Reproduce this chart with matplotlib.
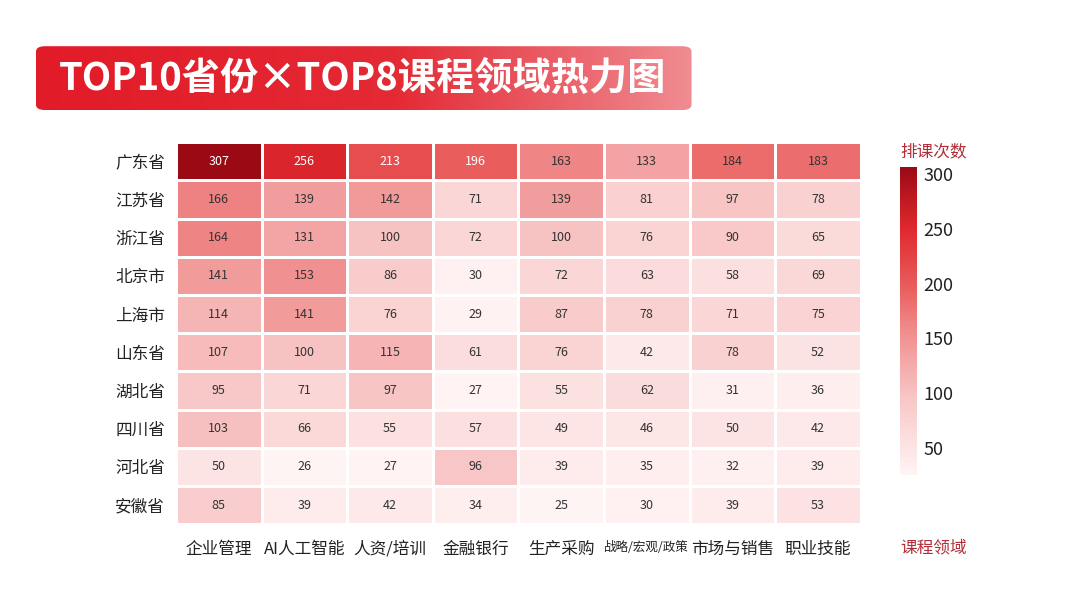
import numpy as np
import matplotlib
matplotlib.use("Agg")
import matplotlib.pyplot as plt
from matplotlib.colors import LinearSegmentedColormap, Normalize
from matplotlib.patches import FancyBboxPatch

plt.rcParams['font.family'] = ['Noto Sans CJK SC', 'DejaVu Sans']

provinces = ["广东省", "江苏省", "浙江省", "北京市", "上海市",
             "山东省", "湖北省", "四川省", "河北省", "安徽省"]
fields = ["企业管理", "AI人工智能", "人资/培训", "金融银行", "生产采购",
          "战略/宏观/政策", "市场与销售", "职业技能"]
counts = np.array([
    [307, 256, 213, 196, 163, 133, 184, 183],
    [166, 139, 142, 71, 139, 81, 97, 78],
    [164, 131, 100, 72, 100, 76, 90, 65],
    [141, 153, 86, 30, 72, 63, 58, 69],
    [114, 141, 76, 29, 87, 78, 71, 75],
    [107, 100, 115, 61, 76, 42, 78, 52],
    [95, 71, 97, 27, 55, 62, 31, 36],
    [103, 66, 55, 57, 49, 46, 50, 42],
    [50, 26, 27, 96, 39, 35, 32, 39],
    [85, 39, 42, 34, 25, 30, 39, 53],
])
cbar_ticks = [50, 100, 150, 200, 250, 300]

cmap = LinearSegmentedColormap.from_list("reds", [
    (0.0, "#fff4f4"), (0.25, "#f8c6c6"), (0.47, "#f08c8c"),
    (0.6, "#e9605f"), (0.8, "#e0282e"), (1.0, "#9a0914")])
norm = Normalize(vmin=counts.min(), vmax=counts.max())

fig = plt.figure(figsize=(10.8, 6.08), dpi=100)
fig.patch.set_facecolor("white")

# title banner with gradient
tax = fig.add_axes([0.0333, 0.819, 0.607, 0.105])
tax.set_xlim(0, 1)
tax.set_ylim(0, 1)
tax.axis("off")
grad_cmap = LinearSegmentedColormap.from_list("banner", [
    (0.0, "#e21b28"), (0.55, "#e42a35"), (1.0, "#f08c92")])
img = tax.imshow(np.linspace(0, 1, 256).reshape(1, -1), cmap=grad_cmap,
                 aspect="auto", extent=[0, 1, 0, 1])
box = FancyBboxPatch((0, 0), 1, 1, boxstyle="round,pad=0,rounding_size=0.014",
                     transform=tax.transAxes, facecolor="none", edgecolor="none",
                     mutation_aspect=6)
tax.add_patch(box)
img.set_clip_path(box)
tax.text(0.499, 0.48, "TOP10省份×TOP8课程领域热力图", color="white",
         fontsize=27.5, fontweight="bold", ha="center", va="center")

# heatmap
ax = fig.add_axes([0.163, 0.138, 0.634, 0.628])
ax.pcolormesh(counts, cmap=cmap, norm=norm, edgecolors="white", linewidth=2)
ax.set_xlim(0, len(fields))
ax.set_ylim(len(provinces), 0)
for i in range(len(provinces)):
    for j in range(len(fields)):
        v = counts[i, j]
        c = "white" if v > 0.6 * counts.max() else "#333333"
        ax.text(j + 0.5, i + 0.5, str(v), ha="center", va="center",
                fontsize=9, color=c)
ax.set_xticks(np.arange(len(fields)) + 0.5)
ax.set_xticklabels(fields, fontsize=12, color="#222222")
ax.set_yticks(np.arange(len(provinces)) + 0.5)
ax.set_yticklabels(provinces, fontsize=12, color="#222222")
ax.get_xticklabels()[5].set_fontsize(9)
ax.tick_params(length=0)
ax.tick_params(axis="y", pad=8)
ax.tick_params(axis="x", pad=12)
for s in ax.spines.values():
    s.set_visible(False)

# colorbar
cax = fig.add_axes([0.833, 0.219, 0.0157, 0.507])
cb = fig.colorbar(plt.cm.ScalarMappable(norm=norm, cmap=cmap), cax=cax)
cb.outline.set_visible(False)
cb.set_ticks(cbar_ticks)
cb.ax.tick_params(length=0, labelsize=13, labelcolor="#222222", pad=5)

fig.text(0.864, 0.750, "排课次数", color="#b22e38", fontsize=12,
         ha="center", va="center")
fig.text(0.864, 0.099, "课程领域", color="#b22e38", fontsize=12,
         ha="center", va="center")

fig.savefig("out.png", dpi=100, facecolor="white")
